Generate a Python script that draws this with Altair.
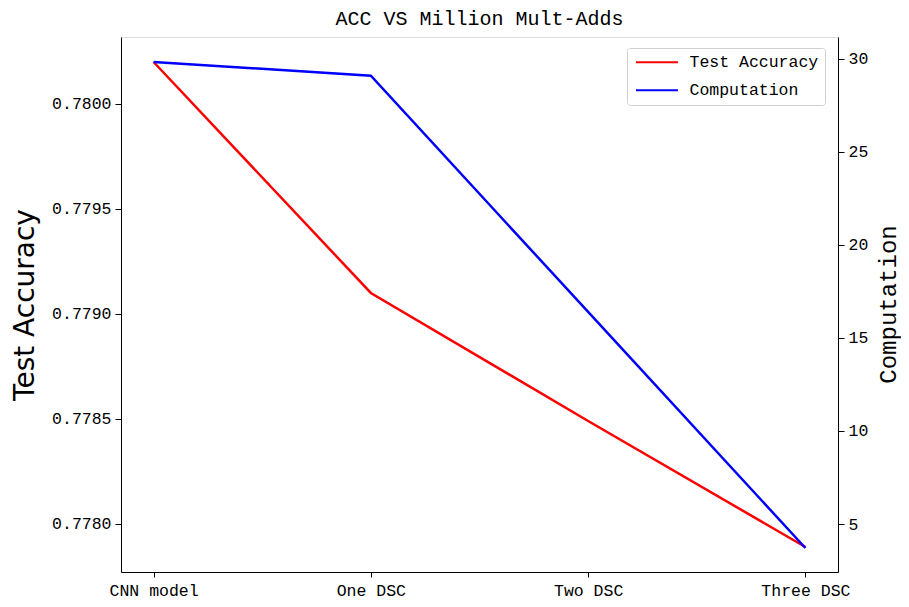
import altair as alt
import pandas as pd

categories = ["CNN model", "One DSC", "Two DSC", "Three DSC"]
test_accuracy = [0.78020, 0.77910, 0.77849, 0.77789]
computation = [29.84, 29.10, 16.40, 3.71]
acc_ticks = [0.7780, 0.7785, 0.7790, 0.7795, 0.7800]
comp_ticks = [5, 10, 15, 20, 25, 30]
series_names = ["Test Accuracy", "Computation"]
series_colors = ["#ff0000", "#0000ff"]

df = pd.DataFrame({"model": categories, "acc": test_accuracy, "comp": computation})

MONO = "Liberation Mono"

x_enc = alt.X(
    "model:N",
    sort=categories,
    scale=alt.Scale(type="point", padding=0.15),
    axis=alt.Axis(title=None, labelAngle=0, labelFont=MONO, labelFontSize=16.5,
                  labelColor="black", tickColor="black", tickSize=5,
                  domainColor="black", labelPadding=5, grid=False),
)

color_enc = alt.Color(
    "series:N",
    scale=alt.Scale(domain=series_names, range=series_colors),
    legend=alt.Legend(title=None, orient="none", legendX=506, legendY=11,
                      symbolType="M-1,0H7", symbolSize=110, symbolStrokeWidth=2.2,
                      labelFont=MONO, labelFontSize=16.5, labelColor="black",
                      labelOffset=40, rowPadding=11,
                      strokeColor="#d0d0d0", fillColor="white", padding=6,
                      cornerRadius=3),
)

acc_line = alt.Chart(df).transform_calculate(series="'Test Accuracy'").mark_line(strokeWidth=2.5).encode(
    x=x_enc,
    y=alt.Y("acc:Q", scale=alt.Scale(domain=[0.777771, 0.780319], zero=False, nice=False),
            axis=alt.Axis(title="Test Accuracy", values=acc_ticks, format=".4f", orient="left",
                          labelFont=MONO, labelFontSize=16.5, labelColor="black",
                          titleFont="DejaVu Sans", titleFontSize=28, titleFontWeight="normal",
                          titleColor="black", titlePadding=12, tickColor="black", tickSize=6,
                          labelPadding=4, domainColor="black", grid=False)),
    color=color_enc,
)

comp_line = alt.Chart(df).transform_calculate(series="'Computation'").mark_line(strokeWidth=2.5).encode(
    x=x_enc,
    y=alt.Y("comp:Q", scale=alt.Scale(domain=[2.42, 31.18], zero=False, nice=False),
            axis=alt.Axis(title="Computation", values=comp_ticks, orient="right",
                          labelFont=MONO, labelFontSize=16.5, labelColor="black",
                          titleFont=MONO, titleFontSize=24, titleFontWeight="normal",
                          titleColor="black", titleAngle=270, titleX=50, titleY=267,
                          titleAlign="center", titleBaseline="middle",
                          tickColor="black", tickSize=6,
                          labelPadding=4, domainColor="black", grid=False)),
    color=color_enc,
)

chart = alt.layer(acc_line, comp_line).resolve_scale(y="independent").properties(
    width=717,
    height=535,
    title=alt.TitleParams("ACC VS Million Mult-Adds", font=MONO, fontSize=20,
                          fontWeight="normal", color="black", offset=8, anchor="middle"),
    autosize=alt.AutoSizeParams(type="none"),
    padding={"left": 113, "top": 29, "right": 63, "bottom": 27},
).configure_view(stroke="black", strokeWidth=1).configure(background="white")

chart.save("out.html", embed_options={"renderer": "svg", "actions": False})
